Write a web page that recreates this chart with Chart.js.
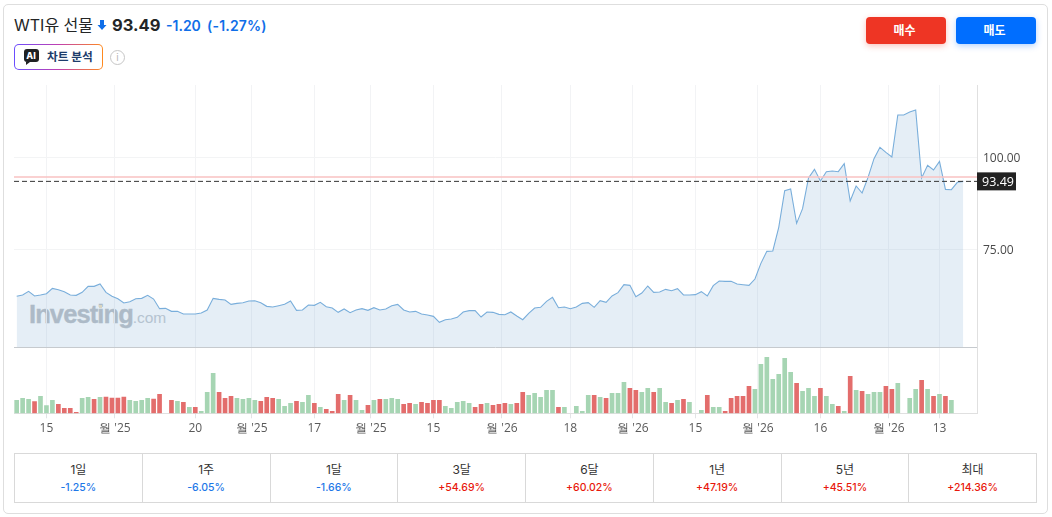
<!DOCTYPE html>
<html lang="ko"><head><meta charset="utf-8">
<script src="https://cdn.jsdelivr.net/npm/chart.js@4"></script>
<style>
html,body{margin:0;padding:0;background:#fff;width:1052px;height:517px;overflow:hidden}
body{font-family:Inter,"Noto Sans CJK KR",sans-serif;position:relative}
.abs{position:absolute;white-space:nowrap}
#card{left:3px;top:4px;width:1043px;height:508px;border:1px solid #dedede;border-radius:5px;box-sizing:content-box}
#title{left:14px;top:15px;font-size:16px;line-height:20px;color:#232526}
#price{left:112px;top:14px;font-size:16.5px;line-height:22px;font-weight:700;color:#232526}
#chg{left:166px;top:16px;font-size:14px;line-height:20px;font-weight:600;color:#0f6ee8}
#pct{left:207px;top:16px;font-size:14px;line-height:20px;font-weight:600;color:#0f6ee8;letter-spacing:.2px}
.btn{top:17px;width:80px;height:27px;border-radius:4px;color:#fff;font-size:12px;font-weight:700;text-align:center;line-height:27px;text-indent:-3px}
#buy{left:866px;background:#ee3524;box-shadow:0 2px 6px rgba(238,53,36,.3)}
#sell{left:956px;background:#006eff;box-shadow:0 2px 6px rgba(0,110,255,.3)}
#ai{left:14px;top:44px;width:89px;height:26px;border-radius:5px;box-sizing:border-box;border:1px solid transparent;
background:linear-gradient(#fff,#fff) padding-box,linear-gradient(90deg,#6a4dff,#c040b0,#ff8a1e) border-box}
#ailabel{left:47px;top:48px;font-size:11.7px;line-height:18px;font-weight:700;color:#1d3d6b}
#aiicon{left:23.5px;top:49px;width:15px;height:13px;background:#1f2123;border-radius:3px;color:#fff;font-size:9px;font-weight:800;text-align:center;line-height:13px}
#aitail{left:26px;top:62px;width:0;height:0;border-left:4px solid #1f2123;border-bottom:3px solid transparent}
#info{left:110px;top:50px;width:13px;height:13px;border:1px solid #c6c6c6;border-radius:50%;color:#b8b8b8;font-size:10px;line-height:13px;text-align:center}
#wm{left:29px;top:299px;color:#b9bfc5;font-family:"Liberation Sans",sans-serif;font-size:25.5px;line-height:30px;font-weight:700;letter-spacing:-.9px;-webkit-text-stroke:.35px #b9bfc5}
#wm span{font-size:15.5px;font-weight:400;letter-spacing:-.1px;color:#c4cad0;-webkit-text-stroke:0}
#wmdot{left:98.5px;top:305px;width:3px;height:3px;background:#efe0bd}
#cv{left:0;top:0}
#table{left:14px;top:453px;width:1023px;height:50px;box-sizing:border-box;border:1px solid #d9d9d9;display:flex}
.cell{flex:1;border-right:1px solid #d9d9d9;text-align:center}
.cell:last-child{border-right:0}
.cell b{display:block;font-weight:400;font-size:12px;line-height:16px;margin-top:8px;color:#333}
.cell i{display:block;font-style:normal;font-weight:500;font-size:10.5px;line-height:14px;margin-top:3px}
</style></head><body>
<div class="abs" id="card"></div>
<div class="abs" id="title">WTI유 선물</div>
<svg class="abs" style="left:97px;top:19px" width="10" height="12" viewBox="0 0 10 12"><path d="M3 1h4v5h2.5L5 11 .5 6H3z" fill="#0f6ee8"/></svg>
<div class="abs" id="price">93.49</div>
<div class="abs" id="chg">-1.20</div>
<div class="abs" id="pct">(-1.27%)</div>
<div class="abs btn" id="buy">매수</div>
<div class="abs btn" id="sell">매도</div>
<div class="abs" id="ai"></div>
<div class="abs" id="aiicon">AI</div><div class="abs" id="aitail"></div>
<div class="abs" id="ailabel">차트 분석</div>
<div class="abs" id="info">i</div>
<div class="abs" id="wm">Investing<span>.com</span></div>
<div class="abs" id="wmdot"></div>
<canvas class="abs" id="cv" width="1052" height="440" style="width:1052px;height:440px"></canvas>
<div class="abs" id="table"></div>
<script>
const closePrices=[62.39,62.75,63.74,62.48,62.75,63.11,64.55,64.19,63.65,62.75,62.66,63.47,65.09,65.09,65.72,63.47,62.39,61.75,60.58,60.94,
61.75,61.84,62.66,61.66,59.05,59.14,58.33,58.33,57.61,57.61,57.61,57.88,58.69,61.84,61.57,61.39,60.22,60.49,60.67,61.12,
61.21,60.67,59.68,59.50,59.86,60.22,61.12,58.60,58.69,60.04,59.95,60.76,59.59,59.23,58.06,58.96,57.97,58.69,59.05,58.60,
59.32,58.69,58.96,59.86,60.22,58.69,58.15,58.33,57.61,57.33,56.97,55.35,56.07,56.25,56.70,58.15,58.51,58.51,56.79,58.15,
58.06,57.51,57.42,58.15,57.06,56.07,57.79,59.23,59.41,61.03,62.11,59.32,59.50,59.05,59.50,60.49,60.67,59.41,61.21,60.76,
62.48,63.38,65.54,65.36,62.30,63.29,65.18,63.47,63.56,64.28,63.92,64.46,62.75,62.75,62.84,63.65,62.48,65.27,66.53,66.44,
66.44,65.72,65.54,65.36,67.07,71.31,74.56,74.65,81.05,90.97,91.42,82.13,86.10,94.40,96.75,93.59,96.11,96.29,96.11,98.28,
88.18,92.24,90.34,94.58,99.63,102.70,101.34,100.08,111.45,111.45,112.26,112.80,94.40,97.83,96.56,98.91,91.33,91.24,93.23,93.49];
const volumes=[39,45,42,35,51,23,39,27,15,15,3,45,48,42,48,49,46,46,49,39,
36,39,45,43,57,null,39,36,33,18,18,6,63,120,63,45,51,45,42,45,
39,36,48,45,42,21,30,36,33,54,30,18,12,6,57,39,54,39,9,24,
39,42,42,45,42,27,30,27,33,30,39,39,21,15,33,36,30,18,27,30,
24,27,30,27,30,63,54,60,48,69,69,18,18,null,21,6,54,54,48,45,
60,60,93,75,69,63,75,63,75,33,30,39,42,33,null,9,54,18,18,6,
45,51,51,81,72,147,168,102,117,165,123,90,66,75,51,75,51,27,21,6,
111,69,66,57,63,63,81,72,90,null,45,72,99,72,51,57,51,39,null,null];
const volumeDirs=[
"g","g","g","r","g","g","g","r","r","r","r","g","g","r","g","r","r","r","r","g",
"g","g","g","r","r","r","r","g","r","g","r","g","g","g","r","r","r","g","g","g",
"g","r","r","r","g","g","g","r","g","g","r","g","r","r","r","g","r","g","g","r",
"g","r","g","g","g","r","r","g","r","r","r","r","g","g","g","g","g","r","r","g",
"r","r","r","g","r","r","g","g","g","g","g","r","g","g","g","g","g","r","g","r",
"g","g","g","r","r","g","g","r","g","g","r","g","r","g","g","g","r","g","g","r",
"r","r","r","r","g","g","g","g","g","g","g","r","g","g","g","r","g","g","r","g",
"r","g","r","g","g","g","r","r","g","g","g","g","r","g","r","g","r","g","g","g"];
const previousClose=94.69;
const lastPrice=93.49;
const priceTicks=[75,100];
const tickIndex=[5,16.5,30,39.5,50,59.5,70,81.5,93,103.5,114,124.5,135,146.5,155];
const tickLabels=["15","월 '25","20","월 '25","17","월 '25","15","월 '26","18","월 '26","15","월 '26","16","월 '26","13"];
const periodLabels=["1일","1주","1달","3달","6달","1년","5년","최대"];
const periodChanges=["-1.25%","-6.05%","-1.66%","+54.69%","+60.02%","+47.19%","+45.51%","+214.36%"];

const table=document.getElementById('table');
periodLabels.forEach((p,i)=>{
  const c=document.createElement('div');c.className='cell';
  const up=periodChanges[i][0]==='+';
  c.innerHTML='<b>'+p+'</b><i style="color:'+(up?'#e8180c':'#1e78e8')+'">'+periodChanges[i]+'</i>';
  table.appendChild(c);
});

const xMin=-0.45,xMax=161.3,yMin=48.6,yMax=119.56;
const tickFont={family:'"Open Sans","Noto Sans",sans-serif',size:12};
const panePlugin={id:'pane',
  afterUpdate(ch){
    ch.scales.y.getLabelItems().forEach(it=>{it.options.translation[1]+=1});
  },
  afterDatasetsDraw(ch){
    const c=ch.ctx,y=ch.scales.y,a=ch.chartArea;
    c.save();
    c.strokeStyle='#c6cace';c.lineWidth=1;
    const b=Math.round(y.bottom)+.5;
    c.beginPath();c.moveTo(a.left,b);c.lineTo(a.right,b);c.stroke();
    const py=y.getPixelForValue(lastPrice);
    c.fillStyle='#222222';c.fillRect(a.right,py-9,39,18);
    c.fillStyle='#fff';c.font='500 12.5px "Open Sans",sans-serif';c.textAlign='center';c.textBaseline='middle';
    c.fillText(lastPrice.toFixed(2),a.right+21,py+1);
    c.restore();
  }};
new Chart(document.getElementById('cv'),{
  type:'line',
  data:{datasets:[
    {type:'line',label:'종가',data:closePrices.map((v,i)=>({x:i,y:v})),yAxisID:'y',borderColor:'#79aedb',borderWidth:1.1,
     pointRadius:0,tension:0,fill:'start',backgroundColor:'rgba(125,170,210,.2)',order:3},
    {type:'line',label:'전일 종가',data:[{x:xMin,y:previousClose},{x:xMax,y:previousClose}],yAxisID:'y',borderColor:'#f8c2c2',borderWidth:1.5,pointRadius:0,fill:false,order:2},
    {type:'line',label:'현재가',data:[{x:xMin,y:lastPrice},{x:xMax,y:lastPrice}],yAxisID:'y',borderColor:'#333',borderWidth:1,borderDash:[5,3],pointRadius:0,fill:false,order:1},
    {type:'bar',label:'거래량',data:volumes.map((v,i)=>({x:i,y:v})),yAxisID:'yVol',barThickness:4,
     backgroundColor:volumeDirs.map(d=>d==='g'?'#a6d5b3':'#e36d6c'),order:4}
  ]},
  plugins:[panePlugin],
  options:{
    responsive:false,animation:false,devicePixelRatio:1,
    layout:{padding:{left:14,top:85,right:0,bottom:0}},
    plugins:{legend:{display:false},tooltip:{enabled:false}},
    scales:{
      x:{type:'linear',position:'bottom',min:xMin,max:xMax,offset:false,
        grid:{color:'#f2f3f5',offset:false,tickLength:5,tickColor:'#e2e4e6'},
        border:{color:'#e0e0e0'},
        afterFit(s){s.height=26.7},
        afterBuildTicks(s){s.ticks=tickIndex.map(v=>({value:v}))},
        ticks:{font:tickFont,color:'#5a5a5a',maxRotation:0,autoSkip:false,padding:3,
          callback(v){return tickLabels[tickIndex.indexOf(v)]}}},
      y:{type:'linear',position:'right',stack:'p',stackWeight:262.3,min:yMin,max:yMax,
        grid:{color:'#f3f4f5',tickLength:0},border:{color:'#e0e0e0'},
        afterFit(s){s.width=75},
        afterBuildTicks(s){s.ticks=priceTicks.map(v=>({value:v}))},
        ticks:{font:tickFont,color:'#4a4a4a',padding:6,callback(v){return v.toFixed(2)}}},
      yVol:{type:'linear',position:'right',stack:'p',stackWeight:66,min:0,max:198,
        grid:{display:false},border:{color:'#e0e0e0'},
        afterFit(s){s.width=75},
        ticks:{display:false}}
    }
  }
});
</script>
</body></html>
